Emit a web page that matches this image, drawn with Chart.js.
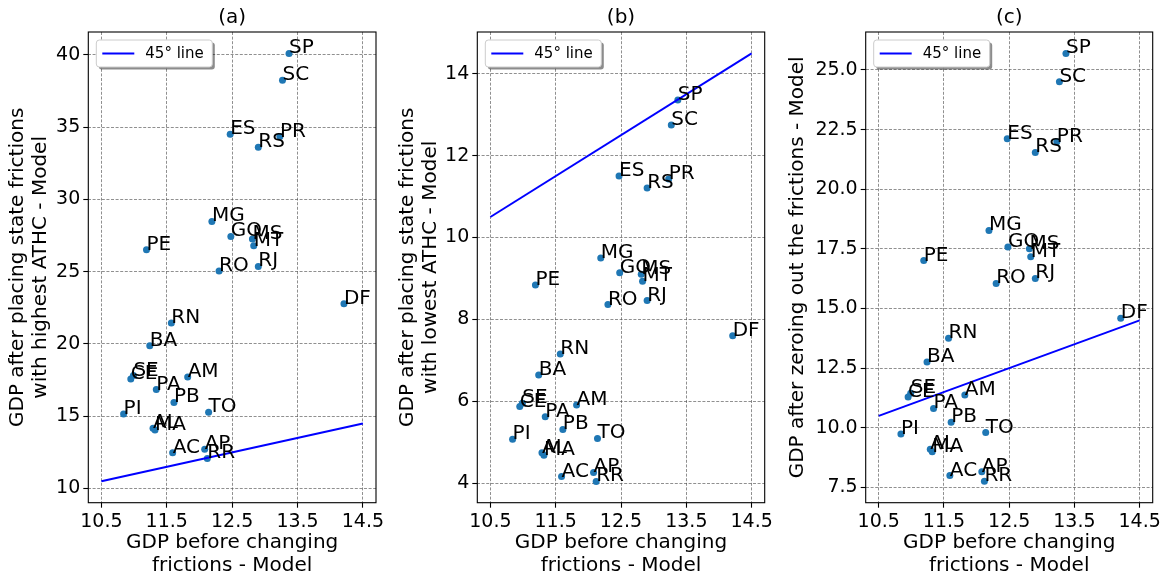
<!DOCTYPE html>
<html>
<head>
<meta charset="utf-8">
<script src="https://cdn.jsdelivr.net/npm/chart.js@4"></script>
<style>
body { margin: 0; background: #fff; }
#wrap { position: relative; width: 1170px; height: 577px; }
canvas { position: absolute; top: 0; }
</style>
</head>
<body>
<div id="wrap">
  <canvas id="chartA" width="390" height="577" style="left:0px"></canvas>
  <canvas id="chartB" width="390" height="577" style="left:390px"></canvas>
  <canvas id="chartC" width="390" height="577" style="left:780px"></canvas>
</div>
<script>
// data
const states = ['SP','SC','ES','PR','RS','MG','GO','MS','MT','PE','RJ','RO','DF','RN','BA','SE','CE','AM','PA','PB','PI','TO','AL','MA','AC','AP','RR'];
const gdpBefore = [13.37,13.27,12.47,13.23,12.90,12.19,12.48,12.81,12.83,11.19,12.90,12.30,14.21,11.57,11.24,10.99,10.95,11.82,11.34,11.61,10.84,12.14,11.29,11.32,11.59,12.08,12.12];
const gdpHighAthc = [40.09,38.23,34.50,34.34,33.60,28.47,27.43,27.25,26.79,26.51,25.36,25.04,22.78,21.44,19.88,17.81,17.58,17.71,16.84,15.95,15.16,15.28,14.17,14.05,12.47,12.72,12.08];
const gdpLowAthc = [13.36,12.75,11.50,11.43,11.21,9.50,9.14,9.10,8.93,8.84,8.46,8.36,7.60,7.15,6.64,5.95,5.87,5.91,5.62,5.31,5.07,5.09,4.74,4.68,4.16,4.26,4.04];
const gdpNoFrictions = [25.69,24.50,22.12,21.99,21.54,18.27,17.58,17.50,17.17,17.01,16.26,16.05,14.59,13.75,12.76,11.45,11.29,11.37,10.81,10.23,9.74,9.80,9.10,9.00,8.00,8.16,7.76];
const lineX = [10.5, 14.5];
const xTicks = [10.5, 11.5, 12.5, 13.5, 14.5];
const yTicksA = [10, 15, 20, 25, 30, 35, 40];
const yTicksB = [4, 6, 8, 10, 12, 14];
const yTicksC = [7.5, 10, 12.5, 15, 17.5, 20, 22.5, 25];

Chart.defaults.font.family = '"DejaVu Sans", sans-serif';
Chart.defaults.color = '#000';

// state names next to the dots
const labelPlugin = {
  id: 'stateLabels',
  afterDatasetsDraw(chart) {
    const meta = chart.getDatasetMeta(1);
    const ctx = chart.ctx;
    ctx.save();
    ctx.font = '20px "DejaVu Sans"';
    ctx.fillStyle = '#000';
    ctx.textAlign = 'left';
    ctx.textBaseline = 'alphabetic';
    meta.data.forEach((pt, i) => ctx.fillText(states[i], pt.x, pt.y));
    ctx.restore();
  }
};

// frame, panel title and the legend box inside the axes
const framePlugin = {
  id: 'panelDecor',
  afterDraw(chart, args, opts) {
    const ctx = chart.ctx;
    const a = chart.chartArea;
    ctx.save();
    ctx.strokeStyle = '#000';
    ctx.lineWidth = 1.1;
    ctx.strokeRect(a.left, a.top, a.right - a.left, a.bottom - a.top);

    ctx.font = '20px "DejaVu Sans"';
    ctx.fillStyle = '#000';
    ctx.textAlign = 'center';
    ctx.textBaseline = 'middle';
    ctx.fillText(opts.text, (a.left + a.right) / 2, 18);

    // legend
    const bx = a.left + 8, by = a.top + 8, bw = 116, bh = 27;
    ctx.fillStyle = 'rgba(0,0,0,0.45)';
    ctx.beginPath();
    ctx.roundRect(bx + 2.5, by + 2.5, bw, bh, 3);
    ctx.fill();
    ctx.fillStyle = '#fff';
    ctx.strokeStyle = '#cccccc';
    ctx.lineWidth = 1;
    ctx.beginPath();
    ctx.roundRect(bx, by, bw, bh, 3);
    ctx.fill();
    ctx.stroke();
    ctx.strokeStyle = '#0000ff';
    ctx.lineWidth = 2;
    ctx.beginPath();
    ctx.moveTo(bx + 6, by + bh / 2);
    ctx.lineTo(bx + 38, by + bh / 2);
    ctx.stroke();
    ctx.fillStyle = '#000';
    ctx.font = '15px "DejaVu Sans"';
    ctx.textAlign = 'left';
    ctx.fillText(chart.data.datasets[0].label, bx + 49, by + bh / 2 + 1);
    ctx.restore();
  }
};

function makeChart(id, yData, yTicks, yMin, yMax, yDigits, yTitle, title, yWidth, padRight) {
  const grid = {
    color: 'rgba(80,80,80,0.8)',
    lineWidth: 0.8,
    tickLength: 5,
    tickColor: '#000',
    tickWidth: 1.1,
    tickBorderDash: []
  };
  return new Chart(document.getElementById(id), {
    data: {
      datasets: [
        {
          type: 'line',
          label: '45° line',
          data: lineX.map(v => ({ x: v, y: v })),
          borderColor: '#0000ff',
          borderWidth: 2,
          pointRadius: 0,
          fill: false
        },
        {
          type: 'scatter',
          label: 'states',
          data: gdpBefore.map((x, i) => ({ x: x, y: yData[i] })),
          backgroundColor: '#1f77b4',
          borderWidth: 0,
          pointRadius: 3.5
        }
      ]
    },
    options: {
      responsive: false,
      animation: false,
      layout: { padding: { top: 32, right: padRight, bottom: 0, left: 0 } },
      plugins: {
        legend: { display: false },
        tooltip: { enabled: false },
        panelDecor: { text: title }
      },
      scales: {
        x: {
          type: 'linear',
          min: 10.3,
          max: 14.7,
          afterBuildTicks: s => { s.ticks = xTicks.map(v => ({ value: v })); },
          afterFit: s => { s.height = 74.3; },
          ticks: {
            autoSkip: false, maxRotation: 0, padding: 3,
            font: { size: 19 }, color: '#000',
            callback: v => v.toFixed(1)
          },
          grid: grid,
          border: { display: false, dash: [3, 1.6] },
          title: {
            display: true,
            text: ['GDP before changing', 'frictions - Model'],
            font: { size: 20, lineHeight: 1.15 },
            padding: { top: 0, bottom: 0 },
            color: '#000'
          }
        },
        y: {
          type: 'linear',
          min: yMin,
          max: yMax,
          afterBuildTicks: s => { s.ticks = yTicks.map(v => ({ value: v })); },
          afterFit: s => { s.width = yWidth; },
          ticks: {
            autoSkip: false, padding: 3,
            font: { size: 19 }, color: '#000',
            callback: v => v.toFixed(yDigits)
          },
          grid: grid,
          border: { display: false, dash: [3, 1.6] },
          title: {
            display: true,
            text: yTitle,
            font: { size: 20, lineHeight: 1.15 },
            padding: { top: 6, bottom: 0 },
            color: '#000'
          }
        }
      }
    },
    plugins: [labelPlugin, framePlugin]
  });
}

makeChart('chartA', gdpHighAthc, yTicksA, 9.02, 41.57, 0,
  ['GDP after placing state frictions', 'with highest ATHC - Model'], '(a)', 88.3, 14);
makeChart('chartB', gdpLowAthc, yTicksB, 3.52, 15.02, 0,
  ['GDP after placing state frictions', 'with lowest ATHC - Model'], '(b)', 87.3, 15.3);
makeChart('chartC', gdpNoFrictions, yTicksC, 6.86, 26.59, 1,
  'GDP after zeroing out the frictions - Model', '(c)', 85.7, 17.3);
</script>
</body>
</html>
